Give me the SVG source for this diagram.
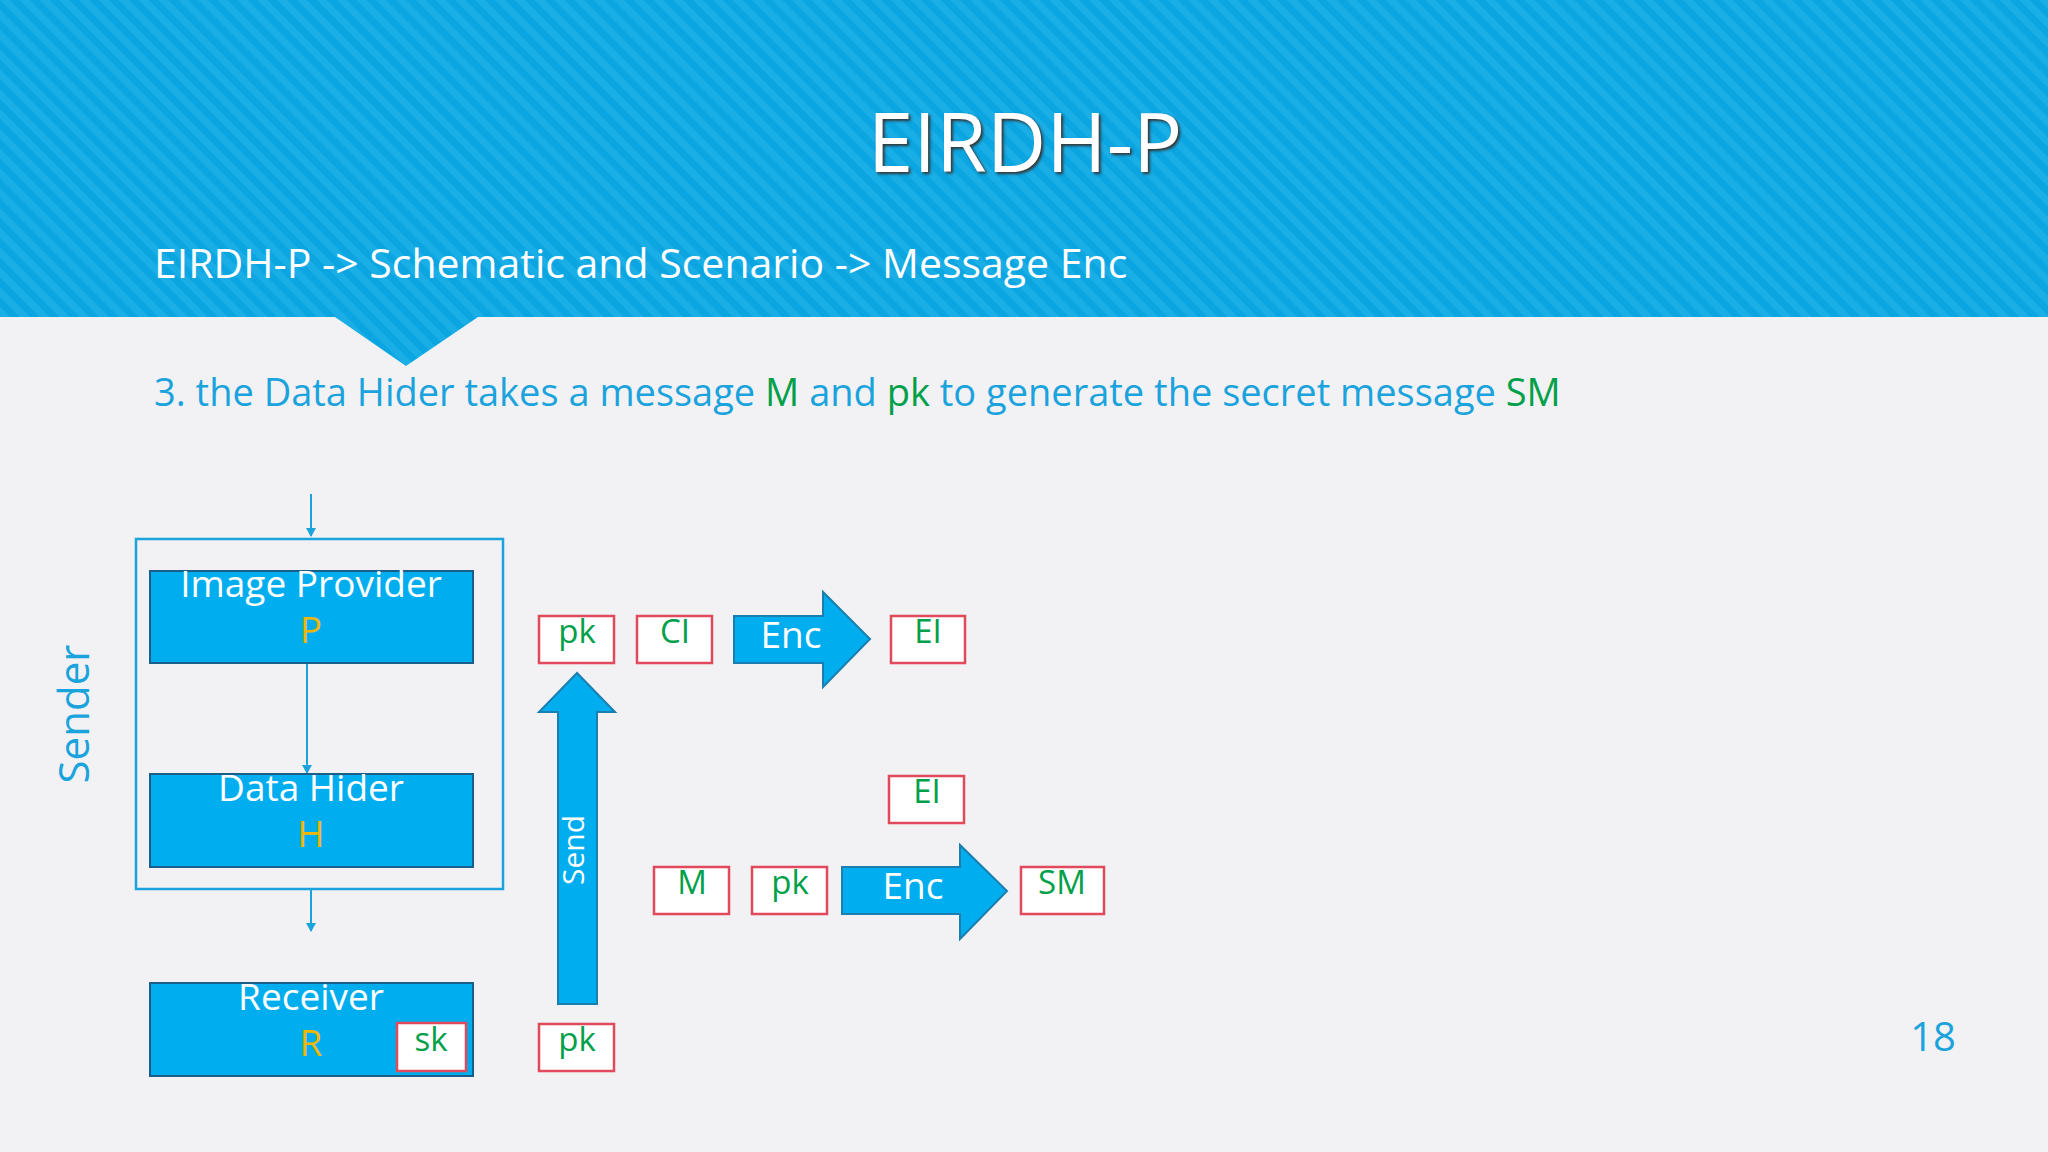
<svg xmlns="http://www.w3.org/2000/svg" width="2048" height="1152" viewBox="0 0 2048 1152">
<defs>
<pattern id="st" width="14" height="14" patternUnits="userSpaceOnUse" patternTransform="rotate(-45)">
<rect width="14" height="14" fill="#0ba6e2"/><rect width="7" height="14" fill="#1aaee6"/>
</pattern>
<marker id="ah" markerWidth="10" markerHeight="10" refX="8" refY="5" orient="auto" markerUnits="userSpaceOnUse"><path d="M0,0 L9,5 L0,10 Z" fill="#1aa3dc"/></marker>
</defs>
<style>
text{font-family:"Segoe UI","Open Sans","Noto Sans",sans-serif}
.node{fill:#00aeef;stroke:#1a5f8a;stroke-width:2}
.tag{fill:#fff;stroke:#e04a5a;stroke-width:2.5}
.w{fill:#fff;font-size:37px;text-anchor:middle}
.y{fill:#f2b705;font-size:37px;text-anchor:middle}
.g{fill:#00a04a;font-size:33px;text-anchor:middle}
.arr{fill:#00aeef;stroke:#1a7fb0;stroke-width:2}
.ln{stroke:#1aa3dc;stroke-width:2;fill:none}
</style>
<rect width="2048" height="1152" fill="#f2f2f4"/>
<path d="M0,0 H2048 V317 H478 L406,366 L335,317 H0 Z" fill="url(#st)"/>
<text x="1025" y="172" fill="#fff" font-size="82" text-anchor="middle" style="text-shadow:2px 2px 3px #333">EIRDH-P</text>
<text x="154" y="278" fill="#fff" font-size="41">EIRDH-P -&gt; Schematic and Scenario -&gt; Message Enc</text>
<text x="154" y="406" fill="#1aa3dc" font-size="38">3. the Data Hider takes a message <tspan fill="#00a04a">M</tspan> and <tspan fill="#00a04a">pk</tspan> to generate the secret message <tspan fill="#00a04a">SM</tspan></text>
<text x="1933" y="1051" fill="#1aa3dc" font-size="40" text-anchor="middle">18</text>
<text transform="translate(89,714) rotate(-90)" fill="#1aa3dc" font-size="42" text-anchor="middle">Sender</text>
<g id="connectors">
<line class="ln" x1="311" y1="494" x2="311" y2="536" marker-end="url(#ah)"/>
<line class="ln" x1="307" y1="663" x2="307" y2="773" marker-end="url(#ah)"/>
<line class="ln" x1="311" y1="889" x2="311" y2="931" marker-end="url(#ah)"/>
</g>
<g id="sender"><rect x="136" y="539" width="367" height="350" fill="none" stroke="#1aa3dc" stroke-width="2.5"/></g>
<g id="provider"><rect class="node" x="150" y="571" width="323" height="92"/><text class="w" x="311" y="597">Image Provider</text><text class="y" x="311" y="643">P</text></g>
<g id="hider"><rect class="node" x="150" y="774" width="323" height="93"/><text class="w" x="311" y="801">Data Hider</text><text class="y" x="311" y="847">H</text></g>
<g id="receiver"><rect class="node" x="150" y="983" width="323" height="93"/><text class="w" x="311" y="1010">Receiver</text><text class="y" x="311" y="1056">R</text>
<rect class="tag" x="397" y="1023" width="69" height="48"/><text class="g" x="431" y="1051">sk</text></g>
<g id="send"><path class="arr" d="M558,1004 V712 H539 L577,673 L615,712 H597 V1004 Z"/><text transform="translate(584,850) rotate(-90)" fill="#fff" font-size="30" text-anchor="middle">Send</text></g>
<g id="pk1"><rect class="tag" x="539" y="616" width="75" height="47"/><text class="g" x="577" y="643">pk</text></g>
<g id="ci"><rect class="tag" x="637" y="616" width="75" height="47"/><text class="g" x="675" y="643">CI</text></g>
<g id="enc1"><path class="arr" d="M734,616 H823 V592 L870,639 L823,687 V663 H734 Z"/><text class="w" x="791" y="648">Enc</text></g>
<g id="ei1"><rect class="tag" x="891" y="616" width="74" height="47"/><text class="g" x="928" y="643">EI</text></g>
<g id="pk0"><rect class="tag" x="539" y="1024" width="75" height="47"/><text class="g" x="577" y="1051">pk</text></g>
<g id="ei2"><rect class="tag" x="889" y="776" width="75" height="47"/><text class="g" x="927" y="803">EI</text></g>
<g id="m"><rect class="tag" x="654" y="867" width="75" height="47"/><text class="g" x="692" y="894">M</text></g>
<g id="pk2"><rect class="tag" x="752" y="867" width="75" height="47"/><text class="g" x="790" y="894">pk</text></g>
<g id="enc2"><path class="arr" d="M842,867 H960 V845 L1007,891 L960,939 V914 H842 Z"/><text class="w" x="913" y="899">Enc</text></g>
<g id="sm"><rect class="tag" x="1021" y="867" width="83" height="47"/><text class="g" x="1062" y="894">SM</text></g>
</svg>
